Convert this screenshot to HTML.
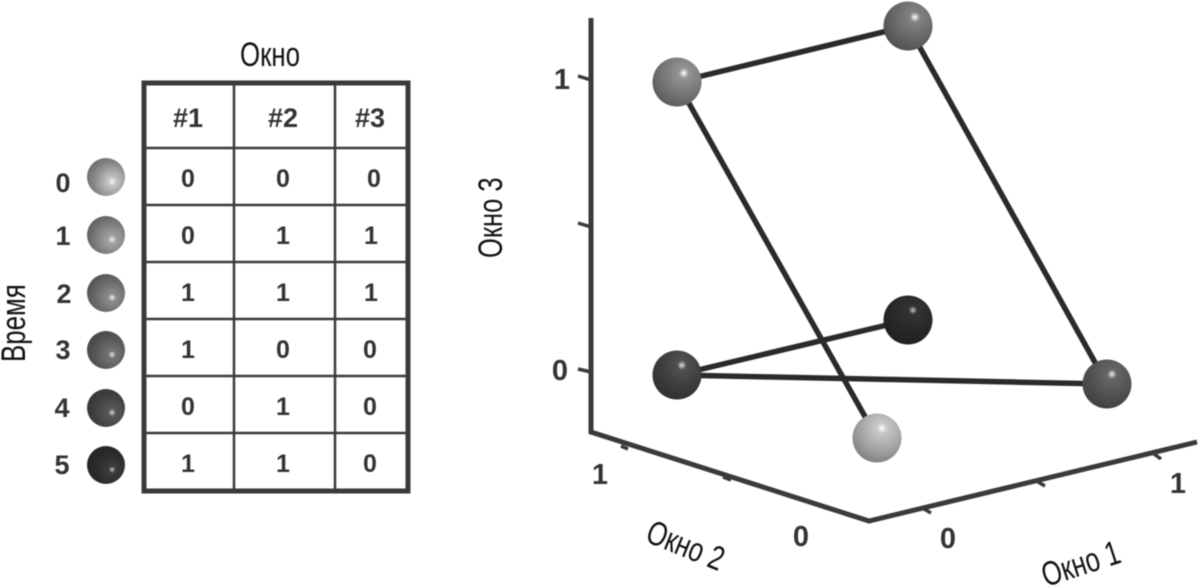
<!DOCTYPE html>
<html>
<head>
<meta charset="utf-8">
<style>
html,body{margin:0;padding:0;background:#fff;}
svg{display:block;filter:blur(0.45px);}
text{font-family:"Liberation Sans",sans-serif;}
.n{font-weight:bold;font-size:25px;fill:#333;text-anchor:middle;}
.g{font-weight:bold;font-size:27px;fill:#333;text-anchor:middle;}
.h{font-weight:bold;font-size:27px;fill:#333;text-anchor:middle;}
.a{font-weight:bold;font-size:29px;fill:#333;text-anchor:middle;}
.l{font-size:34px;fill:#111;}
</style>
</head>
<body>
<svg width="1200" height="586" viewBox="0 0 1200 586" xmlns="http://www.w3.org/2000/svg">
<defs>
<radialGradient id="s0" cx="0.66" cy="0.62" r="0.75"><stop offset="0" stop-color="#fafafa"/><stop offset="0.14" stop-color="#c4c4c4"/><stop offset="0.6" stop-color="#8c8c8c"/><stop offset="1" stop-color="#666"/></radialGradient>
<radialGradient id="s1" cx="0.66" cy="0.62" r="0.75"><stop offset="0" stop-color="#f4f4f4"/><stop offset="0.14" stop-color="#a2a2a2"/><stop offset="0.6" stop-color="#7a7a7a"/><stop offset="1" stop-color="#585858"/></radialGradient>
<radialGradient id="s2" cx="0.66" cy="0.62" r="0.75"><stop offset="0" stop-color="#f0f0f0"/><stop offset="0.14" stop-color="#8c8c8c"/><stop offset="0.6" stop-color="#686868"/><stop offset="1" stop-color="#4e4e4e"/></radialGradient>
<radialGradient id="s3" cx="0.66" cy="0.62" r="0.75"><stop offset="0" stop-color="#e8e8e8"/><stop offset="0.13" stop-color="#747474"/><stop offset="0.6" stop-color="#565656"/><stop offset="1" stop-color="#424242"/></radialGradient>
<radialGradient id="s4" cx="0.66" cy="0.62" r="0.75"><stop offset="0" stop-color="#ddd"/><stop offset="0.13" stop-color="#585858"/><stop offset="0.6" stop-color="#404040"/><stop offset="1" stop-color="#343434"/></radialGradient>
<radialGradient id="s5" cx="0.66" cy="0.62" r="0.75"><stop offset="0" stop-color="#c4c4c4"/><stop offset="0.12" stop-color="#3c3c3c"/><stop offset="0.6" stop-color="#2a2a2a"/><stop offset="1" stop-color="#242424"/></radialGradient>
<radialGradient id="b0" cx="0.6" cy="0.3" r="0.8"><stop offset="0" stop-color="#fff"/><stop offset="0.13" stop-color="#c8c8c8"/><stop offset="0.6" stop-color="#a0a0a0"/><stop offset="1" stop-color="#767676"/></radialGradient>
<radialGradient id="b1" cx="0.64" cy="0.32" r="0.8"><stop offset="0" stop-color="#fff"/><stop offset="0.13" stop-color="#939393"/><stop offset="0.6" stop-color="#727272"/><stop offset="1" stop-color="#545454"/></radialGradient>
<radialGradient id="b2" cx="0.64" cy="0.32" r="0.8"><stop offset="0" stop-color="#fff"/><stop offset="0.13" stop-color="#828282"/><stop offset="0.6" stop-color="#646464"/><stop offset="1" stop-color="#4a4a4a"/></radialGradient>
<radialGradient id="b3" cx="0.6" cy="0.3" r="0.8"><stop offset="0" stop-color="#f0f0f0"/><stop offset="0.12" stop-color="#666"/><stop offset="0.6" stop-color="#4e4e4e"/><stop offset="1" stop-color="#3c3c3c"/></radialGradient>
<radialGradient id="b4" cx="0.6" cy="0.3" r="0.8"><stop offset="0" stop-color="#e0e0e0"/><stop offset="0.12" stop-color="#505050"/><stop offset="0.6" stop-color="#3a3a3a"/><stop offset="1" stop-color="#2e2e2e"/></radialGradient>
<radialGradient id="b5" cx="0.6" cy="0.3" r="0.8"><stop offset="0" stop-color="#c4c4c4"/><stop offset="0.11" stop-color="#333"/><stop offset="0.6" stop-color="#262626"/><stop offset="1" stop-color="#202020"/></radialGradient>
</defs>

<!-- Table -->
<g stroke="#3a3a3a" fill="none">
<rect x="144" y="83" width="264" height="408" stroke-width="5"/>
<g stroke-width="2.5">
<line x1="234" y1="83" x2="234" y2="491"/>
<line x1="335" y1="83" x2="335" y2="491"/>
<line x1="144" y1="148" x2="408" y2="148"/>
<line x1="144" y1="205" x2="408" y2="205"/>
<line x1="144" y1="262" x2="408" y2="262"/>
<line x1="144" y1="319" x2="408" y2="319"/>
<line x1="144" y1="376" x2="408" y2="376"/>
<line x1="144" y1="433" x2="408" y2="433"/>
</g>
</g>
<text class="h" x="188" y="127">#1</text><text class="h" x="283" y="127">#2</text><text class="h" x="370" y="127">#3</text>
<text class="n" x="188" y="187">0</text><text class="n" x="283" y="187">0</text><text class="n" x="374" y="187">0</text>
<text class="n" x="188" y="244">0</text><text class="n" x="283" y="244">1</text><text class="n" x="371" y="244">1</text>
<text class="n" x="188" y="301">1</text><text class="n" x="283" y="301">1</text><text class="n" x="371" y="301">1</text>
<text class="n" x="188" y="358">1</text><text class="n" x="283" y="358">0</text><text class="n" x="370" y="358">0</text>
<text class="n" x="188" y="415">0</text><text class="n" x="283" y="415">1</text><text class="n" x="370" y="415">0</text>
<text class="n" x="188" y="472">1</text><text class="n" x="283" y="472">1</text><text class="n" x="370" y="472">0</text>

<!-- Legend -->
<text class="g" x="63" y="192">0</text><text class="g" x="63" y="245">1</text><text class="g" x="64" y="303">2</text>
<text class="g" x="63" y="359">3</text><text class="g" x="62" y="417">4</text><text class="g" x="62" y="474">5</text>
<circle cx="106" cy="177" r="19" fill="url(#s0)"/>
<circle cx="106" cy="235" r="19" fill="url(#s1)"/>
<circle cx="106" cy="293" r="19" fill="url(#s2)"/>
<circle cx="106" cy="350" r="19" fill="url(#s3)"/>
<circle cx="106" cy="408" r="19" fill="url(#s4)"/>
<circle cx="106" cy="465" r="19" fill="url(#s5)"/>

<!-- Labels -->
<text class="l" transform="translate(240,66) scale(0.76,1)">Окно</text>
<text class="l" transform="translate(25,362) rotate(-90) scale(0.76,1)">Время</text>
<text class="l" transform="translate(502,258) rotate(-90) scale(0.75,1)">Окно 3</text>
<text class="l" transform="translate(644,541) rotate(22) scale(0.75,1)">Окно 2</text>
<text class="l" transform="translate(1046,587) rotate(-18) scale(0.75,1)">Окно 1</text>

<!-- Axes -->
<g fill="none" stroke="#3a3a3a" stroke-width="5">
<polyline points="591,18 591,432 869,521 1197,442"/>
<g stroke-width="3.5">
<line x1="591" y1="80" x2="578" y2="76"/>
<line x1="591" y1="227" x2="578" y2="223"/>
<line x1="591" y1="372" x2="578" y2="369"/>
<line x1="621" y1="446" x2="628" y2="449"/>
<line x1="723" y1="477" x2="731" y2="480"/>
<line x1="825" y1="508" x2="834" y2="509"/>
<line x1="924" y1="509" x2="931" y2="513"/>
<line x1="1038" y1="482" x2="1045" y2="486"/>
<line x1="1154" y1="454" x2="1161" y2="459"/>
</g>
</g>
<text class="a" x="600" y="484">1</text>
<text class="a" x="801" y="546">0</text>
<text class="a" x="948" y="548">0</text>
<text class="a" x="1178" y="493">1</text>
<text class="a" x="562" y="89">1</text>
<text class="a" x="560" y="380">0</text>

<!-- Connectors -->
<g fill="none" stroke="#2a2a2a" stroke-width="5.5">
<line x1="677" y1="82" x2="908" y2="26"/>
<line x1="908" y1="26" x2="1107" y2="384"/>
<line x1="677" y1="82" x2="877" y2="438"/>
<line x1="677" y1="375" x2="908" y2="320"/>
<line x1="677" y1="375" x2="1107" y2="384"/>
</g>

<!-- Spheres -->
<circle cx="877" cy="438" r="24.5" fill="url(#b0)"/>
<circle cx="677" cy="82" r="24.5" fill="url(#b1)"/>
<circle cx="908" cy="26" r="24.5" fill="url(#b2)"/>
<circle cx="1107" cy="384" r="24.5" fill="url(#b3)"/>
<circle cx="677" cy="375" r="24.5" fill="url(#b4)"/>
<circle cx="908" cy="320" r="24.5" fill="url(#b5)"/>
</svg>
</body>
</html>
